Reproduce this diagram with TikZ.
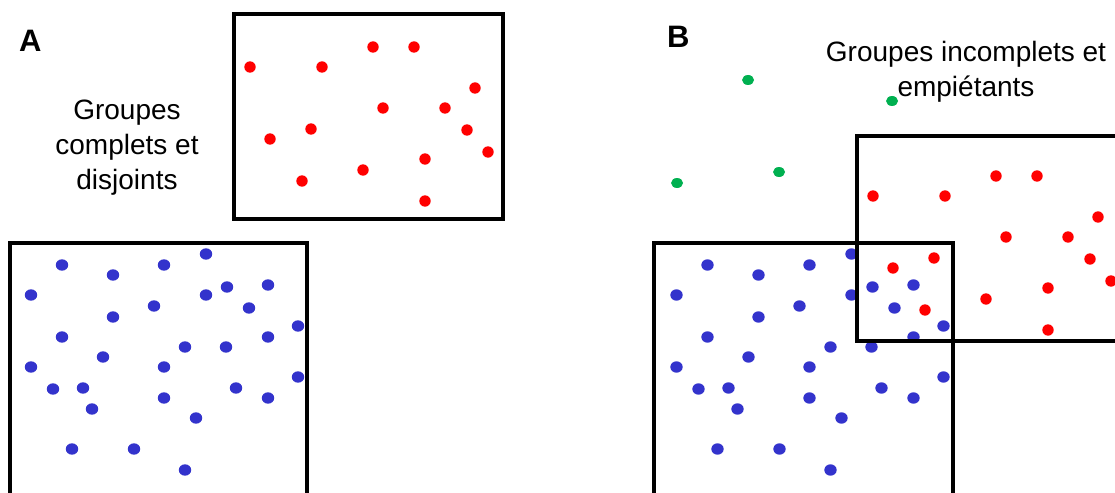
\documentclass[tikz,border=0pt]{standalone}
\usepackage{fontspec}
\setmainfont{Liberation Sans}
\definecolor{dotblue}{RGB}{51,51,204}
\definecolor{dotred}{RGB}{255,0,0}
\definecolor{dotgreen}{RGB}{0,176,80}
\tikzset{
  groupbox/.style  = {draw=black, line width=3.8pt},
  bluedot/.style   = {fill=dotblue},
  reddot/.style    = {fill=dotred},
  greendot/.style  = {fill=dotgreen},
  caption/.style   = {font=\fontsize{28}{35}\selectfont, align=center, inner sep=0pt},
  panellbl/.style  = {font=\fontsize{31}{32}\selectfont\bfseries, inner sep=0pt, anchor=base west}
}
% dot positions (pixels of the original figure)
\newcommand{\bluepts}{62/265, 113/275, 164/265, 206/254, 31/295, 154/306, 206/295,
  227/287, 268/285, 249/308, 113/317, 298/326, 62/337, 268/337, 185/347, 226/347,
  103/357, 31/367, 164/367, 53/389, 83/388, 236/388, 298/377, 164/398, 268/398,
  92/409, 196/418, 72/449, 134/449, 185/470}
\newcommand{\redpts}{250/67, 322/67, 373/47, 414/47, 475/88, 383/108, 445/108,
  311/129, 270/139, 467/130, 488/152, 425/159, 363/170, 302/181, 425/201}

\begin{document}
\begin{tikzpicture}[x=1pt, y=-1pt]
  \useasboundingbox (0,0) rectangle (1115,492);
  \clip (0,0) rectangle (1115,492);

  % panel A
  \node[panellbl] (lblA) at (19,52) {A};
  \node[caption] (capA) at (127,148) {Groupes\\complets et\\disjoints};
  \draw[groupbox] (234,14) rectangle (503,219);
  \draw[groupbox] (10,243) rectangle (307,520);
  \foreach \x/\y in \redpts
    { \fill[reddot] (\x,\y) circle (5.7); }
  \foreach \x/\y in \bluepts
    { \fill[bluedot] (\x,\y) ellipse (6.2 and 5.7); }

  % panel B
  \node[panellbl] (lblB) at (667,48) {B};
  \node[caption] (capB) at (966,72) {Groupes incomplets et\\empiétants};
  \foreach \x/\y in {748/80, 892/101, 677/183, 779/172}
    { \fill[greendot] (\x,\y) ellipse (6 and 5); }
  \begin{scope}[shift={(623,129)}]
    \foreach \x/\y in \redpts
      { \fill[reddot] (\x,\y) circle (5.7); }
  \end{scope}
  \begin{scope}[shift={(645.5,0)}]
    \foreach \x/\y in \bluepts
      { \fill[bluedot] (\x,\y) ellipse (6.2 and 5.7); }
  \end{scope}
  \draw[groupbox] (857,136) rectangle (1130,341);
  \draw[groupbox] (654,243) rectangle (953,520);
\end{tikzpicture}
\end{document}
